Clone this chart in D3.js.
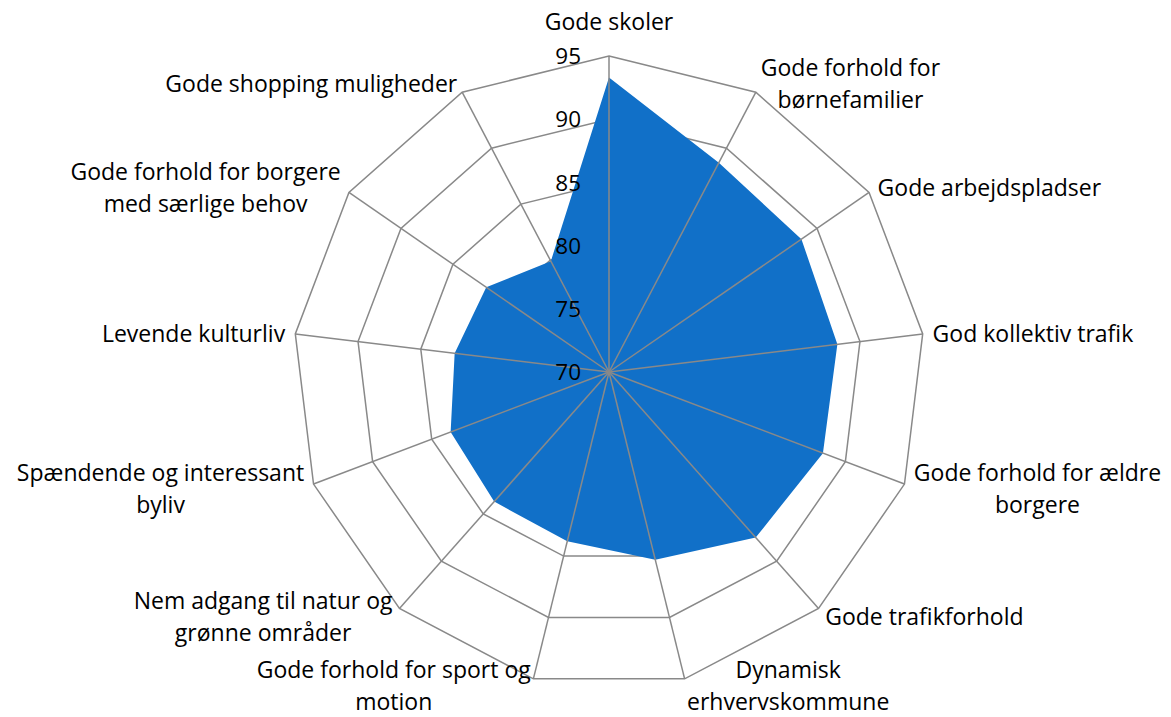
<!DOCTYPE html>
<html>
<head>
<meta charset="utf-8">
<script src="https://cdn.jsdelivr.net/npm/d3@7"></script>
<style>
  body { margin: 0; background: #fff; }
  svg { display: block; }
  .lbl { font-family: "Open Sans", Lato, sans-serif; font-size: 23px; fill: #000; }
  .tick { font-family: "Open Sans", Lato, sans-serif; font-size: 22.5px; fill: #000; }
</style>
</head>
<body>
<svg id="chart" width="1171" height="717"></svg>
<script>
// categories, clockwise from the top
const categories = [
  "Gode skoler",
  "Gode forhold for\nbørnefamilier",
  "Gode arbejdspladser",
  "God kollektiv trafik",
  "Gode forhold for ældre\nborgere",
  "Gode trafikforhold",
  "Dynamisk\nerhvervskommune",
  "Gode forhold for sport og\nmotion",
  "Nem adgang til natur og\ngrønne områder",
  "Spændende og interessant\nbyliv",
  "Levende kulturliv",
  "Gode forhold for borgere\nmed særlige behov",
  "Gode shopping muligheder"
];
const values = [93.3, 88.7, 88.5, 88.2, 88.1, 87.5, 85.3, 83.8, 83.7, 83.4, 82.3, 81.8, 79.9];
const ticks = [70, 75, 80, 85, 90, 95];

const svg = d3.select("#chart");
const W = 1171, H = 717;
const cx = 609, cy = 372, R = 316;
const n = categories.length;

const r = d3.scaleLinear().domain([70, 95]).range([0, R]);
const ang = d3.scaleLinear().domain([0, n]).range([0, 2 * Math.PI]);

function pt(i, rad) {
  const a = ang(i);
  return [cx + rad * Math.sin(a), cy - rad * Math.cos(a)];
}

const g = svg.append("g");
const line = d3.line().curve(d3.curveLinearClosed);

// rings
g.selectAll(".ring")
  .data(ticks.slice(1))
  .enter().append("path")
  .attr("class", "ring")
  .attr("d", t => line(d3.range(n).map(i => pt(i, r(t)))))
  .attr("fill", "none")
  .attr("stroke", "#898989")
  .attr("stroke-width", 1.5);

// filled series
g.append("path")
  .attr("d", line(values.map((v, i) => pt(i, r(v)))))
  .attr("fill", "#1170C8");

// spokes
g.selectAll(".spoke")
  .data(d3.range(n))
  .enter().append("line")
  .attr("class", "spoke")
  .attr("x1", cx).attr("y1", cy)
  .attr("x2", i => pt(i, R)[0])
  .attr("y2", i => pt(i, R)[1])
  .attr("stroke", "#898989")
  .attr("stroke-width", 1.5);

// tick labels
g.selectAll(".tick")
  .data(ticks)
  .enter().append("text")
  .attr("class", "tick")
  .attr("x", cx - 28)
  .attr("y", t => cy - r(t))
  .attr("dy", "0.36em")
  .attr("text-anchor", "end")
  .text(t => t);

// category labels
const lineH = 32;
categories.forEach((c, i) => {
  const lines = c.split("\n");
  const a = ang(i);
  const s = Math.sin(a);
  const top = Math.abs(s) <= 0.05;
  const p = pt(i, R + (top ? 19 : 10));
  const t = g.append("text").attr("class", "lbl").attr("text-anchor", "middle");
  lines.forEach((l, k) => t.append("tspan").attr("x", 0).attr("y", k * lineH).text(l));
  const bb = t.node().getBBox();
  let x;
  if (s > 0.05) x = p[0] + bb.width / 2;
  else if (s < -0.05) x = p[0] - bb.width / 2;
  else x = p[0];
  let yTop = top ? p[1] - bb.height : p[1] - bb.height / 2;
  yTop = Math.min(yTop, H - bb.height);  // keep descenders inside
  t.attr("transform", `translate(${x},${yTop - bb.y})`);
});
</script>
</body>
</html>
